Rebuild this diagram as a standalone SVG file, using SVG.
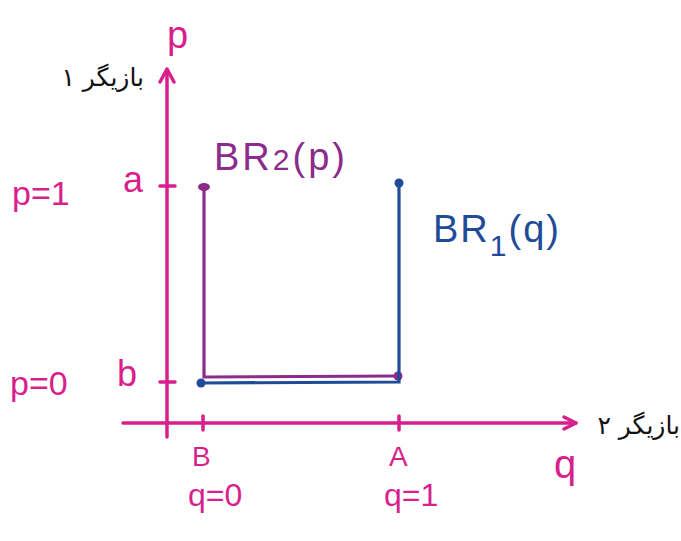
<svg xmlns="http://www.w3.org/2000/svg" width="681" height="541" viewBox="0 0 681 541">
<style>
.ax{stroke:#d81f8c;stroke-width:3.5;fill:none;stroke-linecap:round;stroke-linejoin:round}
.pu{stroke:#8b2b8c;stroke-width:3.2;fill:none;stroke-linecap:round}
.bl{stroke:#1f4b98;stroke-width:3.2;fill:none;stroke-linecap:round}
.hm{font-family:"Liberation Sans",Arial,sans-serif;fill:#d81f8c}
.fa{font-family:"DejaVu Sans","Noto Sans",sans-serif;font-size:25px;fill:#111}
</style>
<rect width="681" height="541" fill="#fff"/>
<g id="axes">
<path class="ax" d="M167 437 L167 70"/>
<path class="ax" d="M160 82 L167 69 L174 82"/>
<path class="ax" d="M123 423 L576 423"/>
<path class="ax" d="M564 417 L576 423 L564 429"/>
<path class="ax" d="M160 186 L175 186"/>
<path class="ax" d="M160 382 L175 382"/>
<path class="ax" d="M203 416 L203 430"/>
<path class="ax" d="M399 416 L399 430"/>
</g>
<g id="labels">
<text class="hm" x="167" y="48" font-size="38">p</text>
<text class="fa" x="144" y="86" text-anchor="end">بازیگر ۱</text>
<text class="hm" x="12" y="205" font-size="34">p=1</text>
<text class="hm" x="123" y="192" font-size="36">a</text>
<text class="hm" x="10" y="395" font-size="34">p=0</text>
<text class="hm" x="117" y="386" font-size="36">b</text>
<text class="hm" x="192" y="466" font-size="28">B</text>
<text class="hm" x="389" y="466" font-size="28">A</text>
<text class="hm" x="554" y="478" font-size="40">q</text>
<text class="hm" x="188" y="506" font-size="32">q=0</text>
<text class="hm" x="384" y="506" font-size="32">q=1</text>
<text class="fa" x="680" y="434" text-anchor="end">بازیگر ۲</text>
</g>
<g id="br2">
<path class="pu" d="M204 187 L204 377 L398 376"/>
<ellipse cx="204" cy="187" rx="6" ry="4" fill="#8b2b8c"/>
<circle cx="398" cy="376" r="4.5" fill="#8b2b8c"/>
<text x="214" y="170" font-family="Liberation Sans,Arial,sans-serif" font-size="38" fill="#8b2b8c" letter-spacing="3">BR<tspan font-size="30">2</tspan>(p)</text>
</g>
<g id="br1">
<path class="bl" d="M399 183 L399 382 L201 383"/>
<circle cx="399" cy="183" r="4.5" fill="#1f4b98"/>
<circle cx="201" cy="383" r="4.5" fill="#1f4b98"/>
<text x="433" y="242" font-family="Liberation Sans,Arial,sans-serif" font-size="38" fill="#1f4b98" letter-spacing="2">BR<tspan font-size="30" dy="14">1</tspan><tspan dy="-14">(q)</tspan></text>
</g>
</svg>
